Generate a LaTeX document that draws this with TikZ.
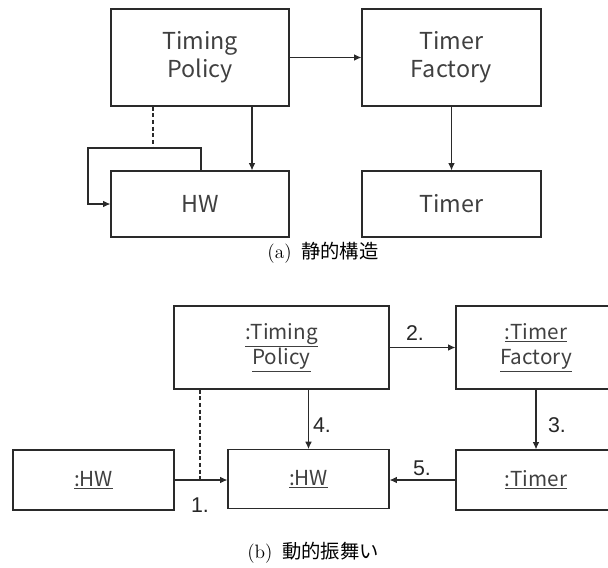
\documentclass[tikz,border=0pt]{standalone}
\usepackage{fontspec}
\newfontfamily\jpfont{Noto Sans CJK JP}
\newfontfamily\numfont{Liberation Sans}
\usetikzlibrary{arrows.meta}

\definecolor{linegray}{HTML}{2A2A2A}
\definecolor{textgray}{HTML}{404040}

\begin{document}
\begin{tikzpicture}[x=0.75pt,y=-0.75pt,
    classbox/.style={draw=linegray, line width=0.9pt, text=textgray, align=center,
      font=\jpfont\fontsize{17.5}{21}\selectfont, inner sep=0pt},
    objbox/.style={draw=linegray, line width=0.9pt, text=textgray, align=center,
      font=\jpfont\fontsize{15.5}{19}\selectfont, inner sep=0pt},
    arr/.style={draw=linegray, line width=0.8pt, -{Latex[length=5.5pt,width=5pt]}},
    link/.style={draw=linegray, line width=0.8pt, dash pattern=on 3pt off 2pt},
    numlbl/.style={text=black!85, font=\numfont\fontsize{16}{18}\selectfont, inner sep=0pt},
    caption/.style={font=\fontsize{14.5}{16}\selectfont, inner sep=0pt}]
  \useasboundingbox (0,0) rectangle (608,568);
  \clip (0,0) rectangle (608,568);

  % (a) static structure
  \node[classbox, minimum width=133.5pt, minimum height=72.75pt] (tp) at (200,57.5) {Timing\\Policy};
  \node[classbox, minimum width=134.25pt, minimum height=72.75pt] (tf) at (451.5,57.5) {Timer\\Factory};
  \node[classbox, minimum width=133.5pt, minimum height=49.5pt] (hw) at (200,204) {HW};
  \node[classbox, minimum width=134.25pt, minimum height=49.5pt] (timer) at (451.5,204) {Timer};

  \draw[arr] (tp) -- (tf);
  \draw[arr] ([xshift=39pt]tp.south) -- ([xshift=39pt]hw.north);
  \draw[arr] (tf) -- (timer);

  % self association of HW
  \coordinate (loopT) at (201,148);
  \coordinate (loopL) at (88,148);
  \coordinate (dashT) at (153,148);
  \draw[arr] (hw.north -| loopT) |- (loopL) |- (hw.west);
  \draw[link] (tp.south -| dashT) -- (dashT);

  \node[caption] (capa) at (323,253) {(a)\, {\jpfont 静的構造}};

  % (b) dynamic behaviour
  \node[objbox, minimum width=161.25pt, minimum height=62.25pt] (otp) at (281.5,347.5)
    {\underline{:Timing}\\\underline{Policy}};
  \node[objbox, minimum width=120pt, minimum height=62.25pt] (otf) at (536,347.5)
    {\underline{:Timer}\\\underline{Factory}};
  \node[objbox, minimum width=120.75pt, minimum height=45pt] (ohwa) at (93.5,480) {\underline{:HW}};
  \node[objbox, minimum width=120.75pt, minimum height=44pt] (ohwb) at (308.5,479) {\underline{:HW}};
  \node[objbox, minimum width=120pt, minimum height=45pt] (otimer) at (536,480) {\underline{:Timer}};

  \coordinate (j1) at (200,480);
  \draw[arr] (ohwa.east) -- (ohwa.east -| ohwb.west);
  \draw[link] (otp.south -| j1) -- (j1);
  \draw[arr] (otp) -- (otf);
  \draw[arr] (otf) -- (otimer);
  \draw[arr] (otp.south -| ohwb.north) -- (ohwb.north);
  \draw[arr] (otimer.west) -- (otimer.west -| ohwb.east);

  \node[numlbl] (n1) at (200,505) {1.};
  \node[numlbl] (n2) at (415,333) {2.};
  \node[numlbl] (n3) at (557,425) {3.};
  \node[numlbl] (n4) at (322,425) {4.};
  \node[numlbl] (n5) at (422,468) {5.};

  \node[caption] (capb) at (313,553) {(b)\, {\jpfont 動的振舞い}};
\end{tikzpicture}
\end{document}
